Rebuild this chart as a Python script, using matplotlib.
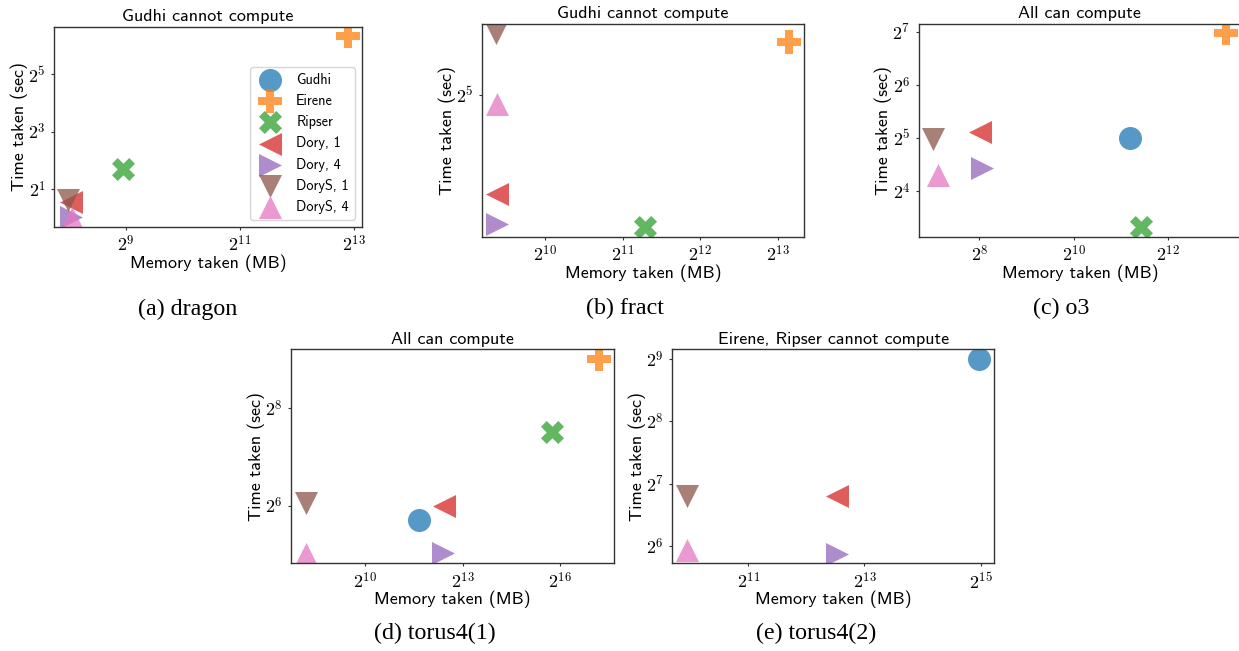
import numpy as np
import matplotlib
matplotlib.use("Agg")
import matplotlib.pyplot as plt

plt.rcParams['mathtext.fontset'] = 'cm'

W, H = 1239, 651

methods = ["Gudhi", "Eirene", "Ripser", "Dory, 1", "Dory, 4", "DoryS, 1", "DoryS, 4"]
markers = ["o", "P", "X", "<", ">", "v", "^"]
colors = ["tab:blue", "tab:orange", "tab:green", "tab:red", "tab:purple", "tab:brown", "tab:pink"]

# memory (MB) e tempo (sec) per dataset, None = non calcolabile
dragon_mem = [None, 7591, 498, 263, 265, 255, 268]
dragon_time = [None, 80.4, 3.25, 1.46, 1.01, 1.52, 1.0]

fract_mem = [None, 9103, 2505, 664, 666, 662, 667]
fract_time = [None, 39.7, 18.6, 21.3, 18.8, 41.2, 30.8]

o3_mem = [2331, 9610, 2740, 258, 265, 130, 139]
o3_time = [32.0, 125.4, 10.0, 34.5, 21.6, 31.6, 19.8]

torus1_mem = [3214, 150562, 55482, 5557, 5367, 290, 292]
torus1_time = [52.4, 512, 182.3, 64.0, 32.7, 66.3, 32.4]

torus2_mem = [32316, None, None, 5915, 5915, 982, 982]
torus2_time = [512, None, None, 111.4, 58.9, 112.2, 61.4]

titles = ["Gudhi cannot compute", "Gudhi cannot compute", "All can compute",
          "All can compute", "Eirene, Ripser cannot compute"]
captions = ["(a) dragon", "(b) fract", "(c) o3", "(d) torus4(1)", "(e) torus4(2)"]

# esponenti dei tick (base 2)
xtick_exp = [[9, 11, 13], [10, 11, 12, 13], [8, 10, 12], [10, 13, 16], [11, 13, 15]]
ytick_exp = [[1, 3, 5], [5], [4, 5, 6, 7], [6, 8], [6, 7, 8, 9]]

# posizione assi in pixel: left, top, right, bottom
boxes = [(54.3, 27, 361.7, 226.7),
         (481.7, 23.5, 804, 236.7),
         (918.7, 23.5, 1241, 236.7),
         (291, 349.3, 614, 563.3),
         (672.3, 349.3, 994, 563.3)]
cap_pos = [(187.5, 309), (625, 308), (1061, 308), (435, 633), (816.5, 633)]

datasets = [(dragon_mem, dragon_time), (fract_mem, fract_time), (o3_mem, o3_time),
            (torus1_mem, torus1_time), (torus2_mem, torus2_time)]

fig = plt.figure(figsize=(W / 100, H / 100), dpi=100)

for i, (mem, tim) in enumerate(datasets):
    l, t, r, b = boxes[i]
    ax = fig.add_axes([l / W, (H - b) / H, (r - l) / W, (b - t) / H])
    for k in range(len(methods)):
        if mem[k] is None:
            # punto vuoto solo per la legenda
            ax.scatter([], [], s=275, marker=markers[k], color=colors[k], alpha=0.75,
                       linewidths=0, label=methods[k])
            continue
        ax.scatter([mem[k]], [tim[k]], s=275, marker=markers[k], color=colors[k],
                   alpha=0.75, linewidths=0, label=methods[k])
    ax.set_xscale('log', base=2)
    ax.set_yscale('log', base=2)
    ax.set_xticks([2.0 ** e for e in xtick_exp[i]])
    ax.set_xticklabels([r'$2^{%d}$' % e for e in xtick_exp[i]])
    ax.set_yticks([2.0 ** e for e in ytick_exp[i]])
    ax.set_yticklabels([r'$2^{%d}$' % e for e in ytick_exp[i]])
    ax.minorticks_off()
    ax.tick_params(labelsize=13, length=2.5, width=0.8, color='0.2')
    for sp in ax.spines.values():
        sp.set_color('0.2')
        sp.set_linewidth(1.0)
    ax.set_title(titles[i], fontsize=13, family='cmss10', pad=4)
    ax.set_xlabel("Memory taken (MB)", fontsize=13, family='cmss10', labelpad=-1)
    ax.set_ylabel("Time taken (sec)", fontsize=13, family='cmss10', labelpad=0)
    if i == 0:
        ax.legend(loc='lower right', prop={'family': 'cmss10', 'size': 10.3})
    fig.text(cap_pos[i][0] / W, 1 - cap_pos[i][1] / H, captions[i], ha='center', va='center',
             family='Liberation Serif', fontsize=17.3)

fig.savefig("out.png", dpi=100)
